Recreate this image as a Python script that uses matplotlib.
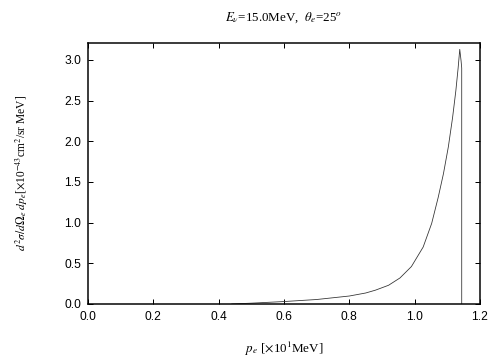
import matplotlib

matplotlib.use("Agg")

import matplotlib.pyplot as plt

# electron momentum [x10 MeV] and cross section [x10^-43 cm^2/sr MeV]
p_e = [0.44, 0.50, 0.60, 0.70, 0.80, 0.85, 0.88, 0.92, 0.955, 0.99,
       1.026, 1.052, 1.072, 1.088, 1.103, 1.116, 1.126, 1.133, 1.138,
       1.142, 1.144, 1.144]
sigma = [0.0, 0.01, 0.03, 0.055, 0.098, 0.135, 0.17, 0.23, 0.32, 0.46,
         0.70, 0.99, 1.31, 1.60, 1.93, 2.29, 2.62, 2.90, 3.13,
         2.99, 2.90, 0.0]

xticks = [0.0, 0.2, 0.4, 0.6, 0.8, 1.0, 1.2]
yticks = [0.0, 0.5, 1.0, 1.5, 2.0, 2.5, 3.0]

plt.rcParams["mathtext.fontset"] = "stix"

fig = plt.figure(figsize=(7, 5), dpi=72)
ax = fig.add_axes([0.1746, 0.1556, 0.7778, 0.7254])

ax.plot(p_e, sigma, color="#333333", linewidth=0.8)

ax.set_xlim(0.0, 1.2)
ax.set_ylim(0.0, 3.21)
ax.set_xticks(xticks)
ax.set_yticks(yticks)
ax.set_xticklabels([f"{v:.1f}" for v in xticks], family="Liberation Sans", fontsize=12)
ax.set_yticklabels([f"{v:.1f}" for v in yticks], family="Liberation Sans", fontsize=12)
ax.tick_params(direction="in", length=5, width=1, top=True, right=True, pad=7)
for s in ax.spines.values():
    s.set_linewidth(1.5)

ax.set_title(r"$E_\nu$=15.0MeV,  $\theta_e$=25$^o$", family="Liberation Serif",
             fontsize=13, pad=22)
ax.set_xlabel(r"$p_e$ [$\times$10$^1$MeV]", family="Liberation Serif",
              fontsize=13, labelpad=17)
ax.set_ylabel(r"$d^2\sigma/d\Omega_e\ dp_e$[$\times$10$^{-43}$cm$^2$/sr MeV]",
              family="Liberation Serif", fontsize=11.5, labelpad=34)

fig.savefig("out.png", dpi=72)
